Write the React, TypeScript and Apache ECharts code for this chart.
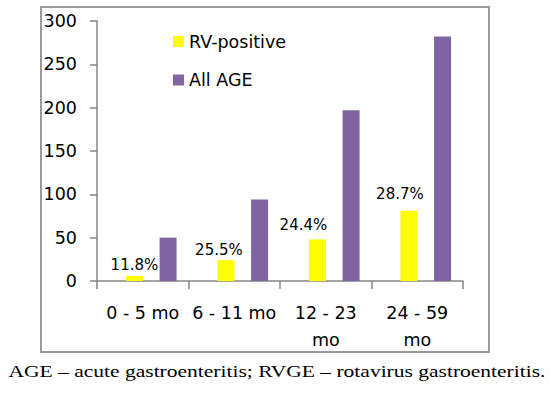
import React, { useEffect, useRef } from "react";
import * as echarts from "echarts";

const categories = ["0 - 5 mo", "6 - 11 mo", "12 - 23\nmo", "24 - 59\nmo"];
const rvPositive = [6, 24, 48, 81];
const allAge = [50, 94, 197, 282];
const pctLabels = ["11.8%", "25.5%", "24.4%", "28.7%"];
const seriesNames = ["RV-positive", "All AGE"];
const yMin = 0;
const yMax = 300;
const yInterval = 50;
const caption = "AGE – acute gastroenteritis; RVGE – rotavirus gastroenteritis.";

// label nudges (style only)
const labelOffsets = [
  [0, -2],
  [-7, -2],
  [-14, -6],
  [-9, -8],
];

const FONT = "DejaVu Sans";
const AXIS_COLOR = "#868686";

export default function App() {
  const ref = useRef<HTMLDivElement>(null);
  useEffect(() => {
    if (!ref.current) return;
    const chart = echarts.init(ref.current, undefined, { renderer: "svg" });
    const option: any = {
      animation: false,
      backgroundColor: "#ffffff",
      textStyle: { fontFamily: FONT },
      grid: [
        { left: 97, right: 87, top: 21, bottom: 117, containLabel: false },
        { left: 105.5, right: 78.5, top: 21, bottom: 117, containLabel: false },
      ],
      legend: {
        data: seriesNames,
        orient: "vertical",
        left: 173,
        top: 31.5,
        padding: 0,
        itemWidth: 11,
        itemHeight: 11,
        itemGap: 18.5,
        icon: "rect",
        textStyle: { fontFamily: FONT, fontSize: 17.5, color: "#000", lineHeight: 20 },
      },
      xAxis: [
        {
          type: "category",
          gridIndex: 0,
          data: categories,
          boundaryGap: true,
          axisLine: { show: true, lineStyle: { color: AXIS_COLOR, width: 1.5 } },
          axisTick: { show: true, length: 8, alignWithLabel: false, lineStyle: { color: AXIS_COLOR, width: 1.5 } },
          axisLabel: {
            interval: 0,
            margin: 18,
            fontFamily: FONT,
            fontSize: 17.5,
            lineHeight: 27,
            color: "#000",
          },
          splitLine: { show: false },
        },
        {
          type: "category",
          gridIndex: 1,
          data: categories,
          show: false,
        },
      ],
      yAxis: [
        {
          type: "value",
          gridIndex: 0,
          min: yMin,
          max: yMax,
          interval: yInterval,
          axisLine: { show: true, lineStyle: { color: AXIS_COLOR, width: 1.5 } },
          axisTick: { show: true, length: 7, lineStyle: { color: AXIS_COLOR, width: 1.5 } },
          axisLabel: { margin: 20, fontFamily: FONT, fontSize: 17.5, color: "#000" },
          splitLine: { show: false },
        },
        {
          type: "value",
          gridIndex: 1,
          min: yMin,
          max: yMax,
          interval: yInterval,
          show: false,
          splitLine: { show: false },
        },
      ],
      series: [
        {
          name: seriesNames[0],
          type: "bar",
          xAxisIndex: 1,
          yAxisIndex: 1,
          barWidth: 17,
          barGap: "98%",
          itemStyle: { color: "#FFFF00" },
          data: rvPositive.map((v, i) => ({
            value: v,
            label: { offset: labelOffsets[i] },
          })),
          label: {
            show: true,
            position: "top",
            distance: 0,
            formatter: (p: any) => pctLabels[p.dataIndex],
            fontFamily: FONT,
            fontSize: 15,
            lineHeight: 17,
            color: "#000",
          },
        },
        {
          name: seriesNames[1],
          type: "bar",
          xAxisIndex: 1,
          yAxisIndex: 1,
          barWidth: 17,
          barGap: "98%",
          itemStyle: { color: "#8064A2" },
          data: allAge,
        },
      ],
      graphic: [
        {
          type: "rect",
          shape: { x: 41, y: 7, width: 448, height: 345 },
          style: { fill: "none", stroke: "#9a9a9a", lineWidth: 2 },
          silent: true,
          z: -1,
        },
        {
          type: "text",
          x: 277,
          y: 371,
          scaleX: 1.266,
          style: {
            text: caption,
            align: "center",
            verticalAlign: "middle",
            fontFamily: "Liberation Serif",
            fontSize: 17,
            fill: "#000",
          },
        },
      ],
    };
    chart.setOption(option);
    return () => chart.dispose();
  }, []);
  return (
    <div
      ref={ref}
      style={{ position: "fixed", left: 0, top: 0, width: 550, height: 398 }}
    />
  );
}
